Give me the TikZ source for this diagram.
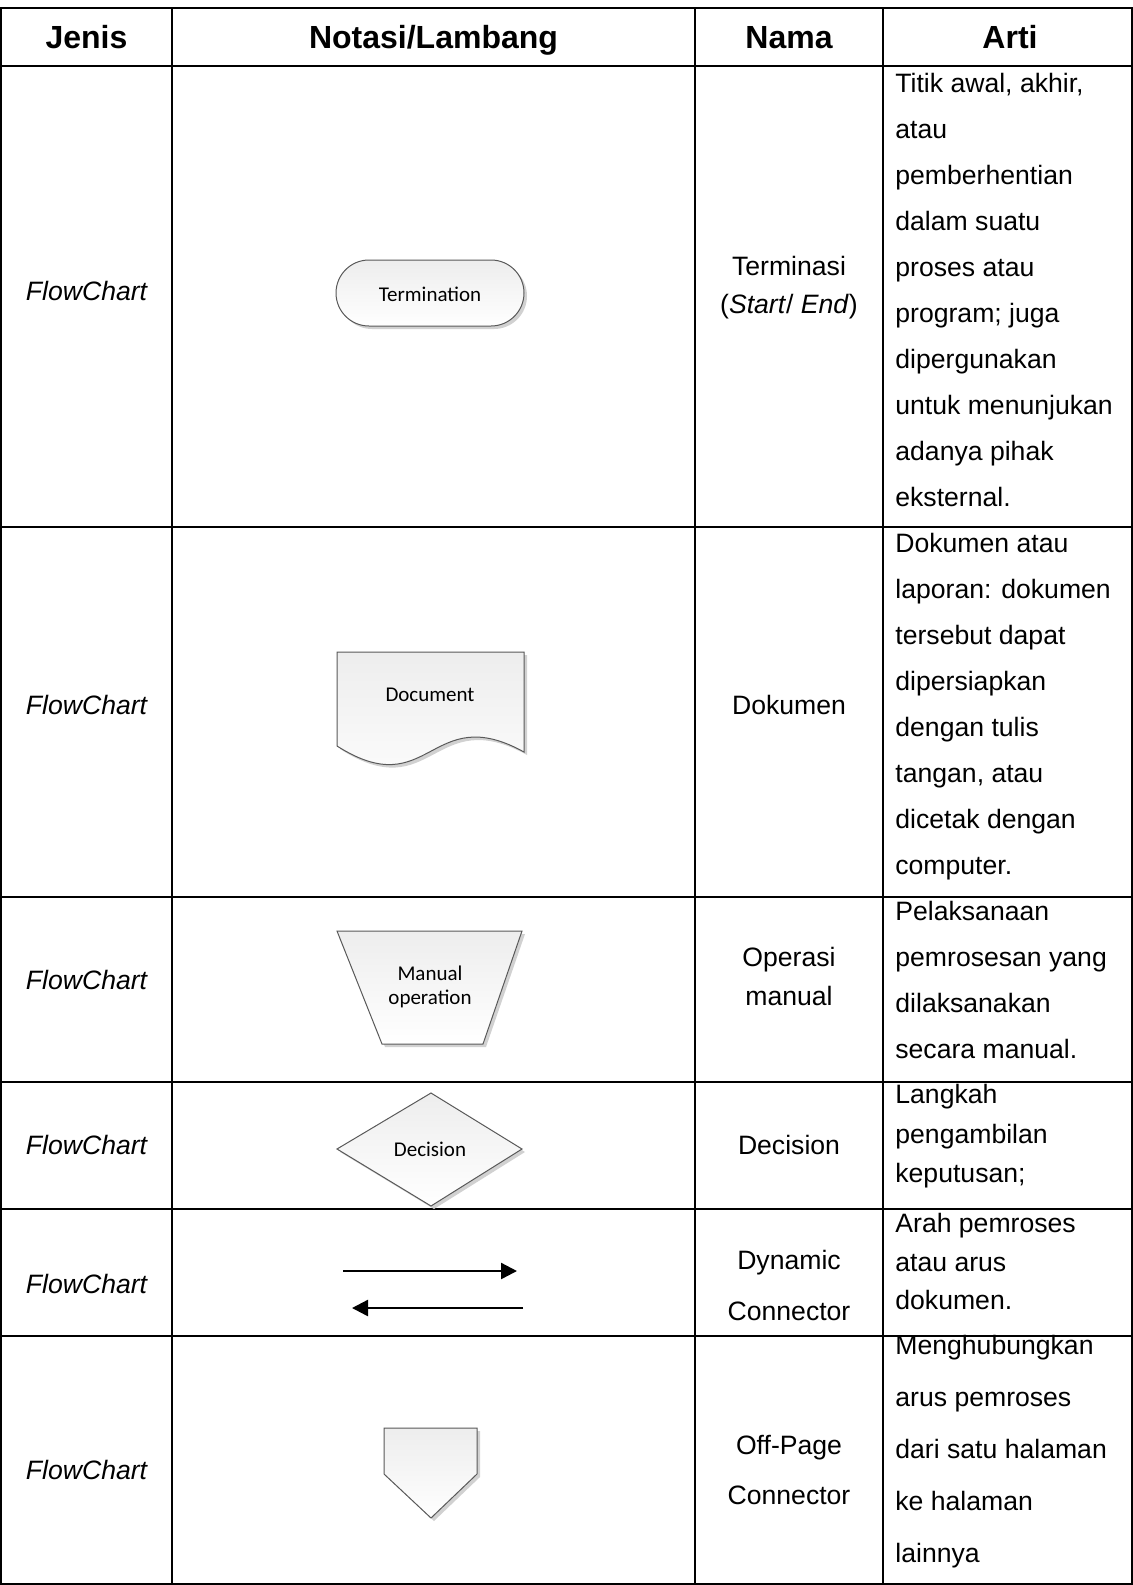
\documentclass[tikz,border=0pt]{standalone}
\usepackage{fontspec}
\setmainfont{Liberation Sans}
\newfontfamily\visiofont{Carlito}
\usepackage{tikz}
\usetikzlibrary{arrows.meta,shadows}

\begin{document}
\begin{tikzpicture}[x=0.5pt, y=-0.5pt, every node/.style={inner sep=0}]
    \tikzstyle{garis}=[line width=1pt]
    \tikzstyle{kepala}=[anchor=base, font=\fontsize{16}{19}\selectfont\bfseries]
    \tikzstyle{jenis}=[anchor=base, font=\fontsize{13.3}{20}\selectfont\itshape]
    \tikzstyle{nama}=[ %
      anchor=north, align=center,
      execute at begin node=\strut
    ]
    \tikzstyle{arti}=[ %
%     draw, rectangle,
      anchor=north west, align=left,
      execute at begin node=\strut
    ]
    \tikzstyle{lambang}=[draw=black!65, line width=0.5pt,
      top color=black!7, bottom color=white,
      drop shadow={shadow xshift=1.5pt, shadow yshift=-1.5pt, fill=black!18, opacity=1}]
    \tikzstyle{teks}=[font=\visiofont\fontsize{10.5}{12}\selectfont, align=center]
    \tikzstyle{panah}=[line width=1.2pt, -{Triangle[length=8pt,width=8pt]}]
    \useasboundingbox (0,0) rectangle (1133,1585);
  %  table
    \draw[garis] (1,8) rectangle (1132,1584);
    \foreach \x in {172,695,883}
      \draw[garis] (\x,8) -- (\x,1584);
    \foreach \y in {66,527,897,1082,1209,1336}
      \draw[garis] (1,\y) -- (1132,\y);
  %  header
    \path (86.5,48.5) node(hjenis) [kepala] {Jenis}
          (433.5,48.5) node(hnotasi) [kepala] {Notasi/Lambang}
          (789,48.5) node(hnama) [kepala] {Nama}
          (1010,48.5) node(harti) [kepala] {Arti};
  %  jenis
    \foreach \y/\n in {300/jenis1,714/jenis2,989/jenis3,1154/jenis4,1293/jenis5,1479/jenis6}
      \path (86.5,\y) node(\n) [jenis] {FlowChart};
  %  lambang
    \draw[lambang, rounded corners=16.5pt] (336,260) rectangle (524,326);
    \draw[lambang] (337,652) -- (524,652) -- (524,752)
          .. controls (430,700) and (430,805) .. (337,746) -- cycle;
    \draw[lambang] (337,931) -- (522,931) -- (483,1044) -- (382,1044) -- cycle;
    \draw[lambang] (431,1093) -- (522,1149) -- (431,1206) -- (337,1149) -- cycle;
    \draw[lambang] (384,1428) -- (477,1428) -- (477,1474) -- (431,1518) -- (384,1474) -- cycle;
    \path (430,294) node(term) [teks] {Termination}
          (430,695) node(doc) [teks] {Document}
          (430,987) node(manop) [teks] {Manual\\operation}
          (430,1149) node(dec) [teks] {Decision};
    \coordinate (kanan1) at (343,1271);
    \coordinate (kanan2) at (517,1271);
    \coordinate (kiri1) at (523,1308);
    \coordinate (kiri2) at (352,1308);
    \draw[panah] (kanan1) -- (kanan2);
    \draw[panah] (kiri1) -- (kiri2);
  %  nama
    \path (789,256) node(nama1) [nama, font=\fontsize{13.3}{19}\selectfont]
                {Terminasi\\(\textit{Start}/ \textit{End})}
          (789,714) node(nama2) [anchor=base, font=\fontsize{13.3}{20}\selectfont] {Dokumen}
          (789,947) node(nama3) [nama, font=\fontsize{13.3}{19.5}\selectfont] {Operasi\\manual}
          (789,1154) node(nama4) [anchor=base, font=\fontsize{13.3}{20}\selectfont] {Decision}
          (789,1250) node(nama5) [nama, font=\fontsize{13.3}{25.5}\selectfont] {Dynamic\\Connector}
          (789,1435) node(nama6) [nama, font=\fontsize{13.3}{25}\selectfont] {Off-Page\\Connector};
  %  arti
    \path (895,73) node(arti1) [arti, font=\fontsize{13.3}{23}\selectfont]
                {Titik awal, akhir,\\atau\\pemberhentian\\dalam suatu\\proses atau\\program; juga\\dipergunakan\\untuk menunjukan\\adanya pihak\\eksternal.}
          (895,533) node(arti2) [arti, font=\fontsize{13.3}{23}\selectfont]
                {Dokumen atau\\laporan: dokumen\\tersebut dapat\\dipersiapkan\\dengan tulis\\tangan, atau\\dicetak dengan\\computer.}
          (895,901) node(arti3) [arti, font=\fontsize{13.3}{23}\selectfont]
                {Pelaksanaan\\pemrosesan yang\\dilaksanakan\\secara manual.}
          (895,1084) node(arti4) [arti, font=\fontsize{13.3}{19.75}\selectfont]
                {Langkah\\pengambilan\\keputusan;}
          (895,1213) node(arti5) [arti, font=\fontsize{13.3}{19.25}\selectfont]
                {Arah pemroses\\atau arus\\dokumen.}
          (895,1335) node(arti6) [arti, font=\fontsize{13.3}{26}\selectfont]
                {Menghubungkan\\arus pemroses\\dari satu halaman\\ke halaman\\lainnya};
  \end{tikzpicture}
\end{document}
